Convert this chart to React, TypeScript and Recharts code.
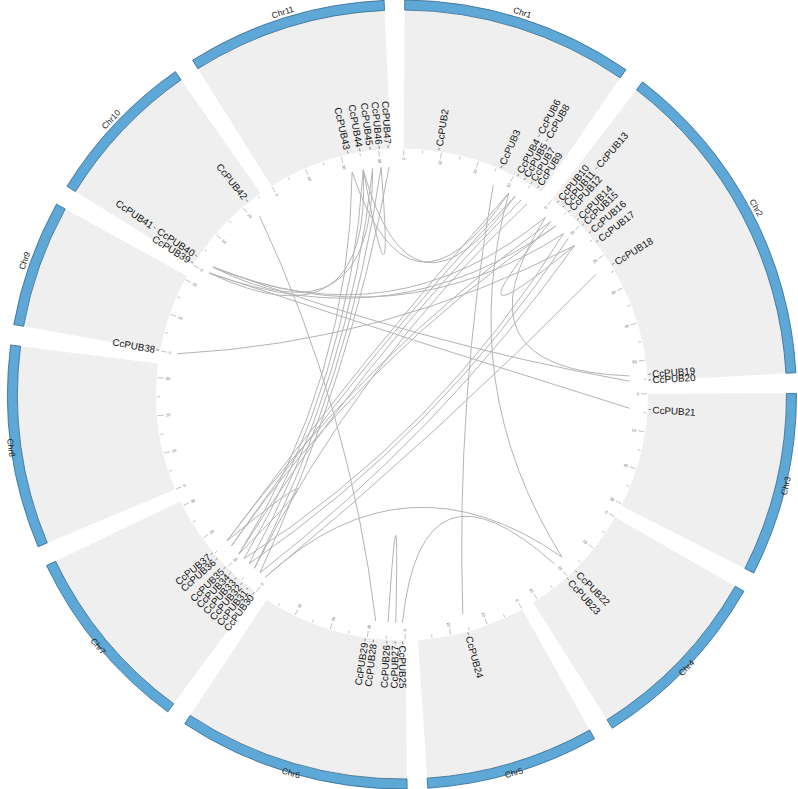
import React from "react";
import { PieChart, Pie, Cell } from "recharts";

const chromosomes = ["Chr1", "Chr2", "Chr3", "Chr4", "Chr5", "Chr6", "Chr7", "Chr8", "Chr9", "Chr10", "Chr11"];
const chrLengths = [38.5, 55.5, 30.5, 31.4, 28.7, 38.5, 31.4, 33.7, 21.0, 26.0, 33.2];

const geneNames = [
  "CcPUB2", "CcPUB3", "CcPUB4", "CcPUB5", "CcPUB6", "CcPUB7", "CcPUB8", "CcPUB9",
  "CcPUB10", "CcPUB11", "CcPUB12", "CcPUB13", "CcPUB14", "CcPUB15", "CcPUB16", "CcPUB17", "CcPUB18", "CcPUB19", "CcPUB20",
  "CcPUB21", "CcPUB22", "CcPUB23", "CcPUB24",
  "CcPUB25", "CcPUB26", "CcPUB27", "CcPUB28", "CcPUB29",
  "CcPUB30", "CcPUB31", "CcPUB32", "CcPUB33", "CcPUB34", "CcPUB35", "CcPUB36", "CcPUB37",
  "CcPUB38", "CcPUB39", "CcPUB40", "CcPUB41", "CcPUB42",
  "CcPUB43", "CcPUB44", "CcPUB45", "CcPUB46", "CcPUB47",
];
const geneChr = [
  "Chr1", "Chr1", "Chr1", "Chr1", "Chr1", "Chr1", "Chr1", "Chr1",
  "Chr2", "Chr2", "Chr2", "Chr2", "Chr2", "Chr2", "Chr2", "Chr2", "Chr2", "Chr2", "Chr2",
  "Chr3", "Chr4", "Chr4", "Chr5",
  "Chr6", "Chr6", "Chr6", "Chr6", "Chr6",
  "Chr7", "Chr7", "Chr7", "Chr7", "Chr7", "Chr7", "Chr7", "Chr7",
  "Chr9", "Chr10", "Chr10", "Chr10", "Chr10",
  "Chr11", "Chr11", "Chr11", "Chr11", "Chr11",
];
// position on chromosome (Mb)
const genePos = [
  9.2, 26.1, 31.0, 33.0, 31.0, 35.0, 33.0, 37.0,
  1.6, 3.5, 5.4, 3.5, 8.5, 10.4, 13.1, 16.1, 23.3, 53.8, 55.3,
  4.1, 17.5, 20.4, 15.5,
  0.7, 4.8, 2.6, 8.3, 10.5,
  0.4, 2.4, 4.4, 6.4, 8.4, 10.4, 13.5, 15.4,
  0.1, 0.4, 2.4, 2.4, 22.0,
  21.9, 25.1, 27.8, 30.2, 32.5,
];

// labels printed after another gene's label on the same line
const stackedLabels: Record<string, string> = { CcPUB6: "CcPUB4", CcPUB8: "CcPUB5", CcPUB13: "CcPUB11", CcPUB41: "CcPUB40" };

const linkFrom = [
  "CcPUB38", "CcPUB39", "CcPUB40", "CcPUB39", "CcPUB40", "CcPUB39", "CcPUB40", "CcPUB41",
  "CcPUB42", "CcPUB43", "CcPUB44", "CcPUB45", "CcPUB46", "CcPUB47", "CcPUB44", "CcPUB43",
  "CcPUB44", "CcPUB10", "CcPUB3", "CcPUB4", "CcPUB4", "CcPUB5", "CcPUB7", "CcPUB9",
  "CcPUB11", "CcPUB11", "CcPUB12", "CcPUB14", "CcPUB15", "CcPUB18", "CcPUB16", "CcPUB22",
  "CcPUB23", "CcPUB35", "CcPUB26",
];
const linkTo = [
  "CcPUB16", "CcPUB21", "CcPUB20", "CcPUB44", "CcPUB45", "CcPUB12", "CcPUB14", "CcPUB10",
  "CcPUB28", "CcPUB35", "CcPUB34", "CcPUB33", "CcPUB32", "CcPUB31", "CcPUB46", "CcPUB4",
  "CcPUB5", "CcPUB19", "CcPUB24", "CcPUB22", "CcPUB37", "CcPUB36", "CcPUB35", "CcPUB32",
  "CcPUB16", "CcPUB37", "CcPUB36", "CcPUB34", "CcPUB33", "CcPUB30", "CcPUB31", "CcPUB30",
  "CcPUB25", "CcPUB37", "CcPUB27",
];

const W = 798;
const H = 789;
const CX = 402;
const CY = 394.5;
const GAP = 3;
const START = 0.4; // clockwise from 12 o'clock
const R_IN = 246;
const R_BAND = 384.5;
const R_OUT = 394.5;
const R_LINK = 228;
const FONT = "Liberation Sans, Arial, sans-serif";
const LABEL_SIZE = 9.8;

const totalLen = chrLengths.reduce((a, b) => a + b, 0);
const degPerMb = (360 - GAP * chromosomes.length) / totalLen;
const chrStart: number[] = [];
chrLengths.reduce((acc, len, i) => {
  chrStart[i] = acc;
  return acc + len * degPerMb + GAP;
}, START);

const geneAngle = (name: string) => {
  const i = geneNames.indexOf(name);
  const c = chromosomes.indexOf(geneChr[i]);
  return chrStart[c] + genePos[i] * degPerMb;
};

const polar = (a: number, r: number) => {
  const t = (a * Math.PI) / 180;
  return [CX + r * Math.sin(t), CY - r * Math.cos(t)];
};

const textW = (s: string) => (32.8 + (s.length - 5) * 5.56) * (LABEL_SIZE / 10);

const chrData = chromosomes.map((name, i) => ({ name, length: chrLengths[i] }));

function Overlay() {
  const ticks: React.ReactNode[] = [];
  chromosomes.forEach((chr, c) => {
    for (let m = 0; m <= chrLengths[c]; m += 5) {
      const a = chrStart[c] + m * degPerMb;
      const major = m % 10 === 0;
      const [x1, y1] = polar(a, R_IN - 1);
      const [x2, y2] = polar(a, major ? R_IN - 7 : R_IN - 4);
      ticks.push(<line key={`t${c}-${m}`} x1={x1} y1={y1} x2={x2} y2={y2} stroke="#999" strokeWidth={0.6} />);
      if (major) {
        const [tx, ty] = polar(a, R_IN - 9);
        const rot = a < 180 ? a - 90 : a - 270;
        ticks.push(
          <text key={`l${c}-${m}`} x={tx} y={ty} fontSize={4} fill="#666" stroke="none" fontFamily={FONT}
            textAnchor={a < 180 ? "end" : "start"} dominantBaseline="central" transform={`rotate(${rot} ${tx} ${ty})`}>
            {m}
          </text>
        );
      }
    }
  });

  const labels = geneNames.map((g) => {
    const a = geneAngle(g);
    const host = stackedLabels[g];
    const r0 = host ? R_IN + 5 + textW(host) + 3 : R_IN + 1;
    const [d1x, d1y] = polar(a, r0);
    const [d2x, d2y] = polar(a, r0 + 2.5);
    const [tx, ty] = polar(a, r0 + 4);
    const right = a < 180;
    const rot = right ? a - 90 : a - 270;
    return (
      <g key={g}>
        <line x1={d1x} y1={d1y} x2={d2x} y2={d2y} stroke="#555" strokeWidth={0.7} />
        <text x={tx} y={ty} fontSize={LABEL_SIZE} fontFamily={FONT} fill="#111" stroke="none" textAnchor={right ? "start" : "end"}
          dominantBaseline="central" transform={`rotate(${rot} ${tx} ${ty})`}>
          {g}
        </text>
      </g>
    );
  });

  const links = linkFrom.map((f, i) => {
    const a1 = geneAngle(f);
    const a2 = geneAngle(linkTo[i]);
    let d = a2 - a1;
    while (d > 180) d -= 360;
    while (d < -180) d += 360;
    const [x1, y1] = polar(a1, R_LINK);
    const [x2, y2] = polar(a2, R_LINK);
    const [qx, qy] = polar(a1 + d / 2, 54);
    return <path key={`k${i}`} d={`M${x1},${y1} Q${qx},${qy} ${x2},${y2}`} fill="none" stroke="#b4b4b4" strokeWidth={1} />;
  });

  return (
    <g>
      {ticks}
      {links}
      {labels}
    </g>
  );
}

// chromosome names, plus the gene/link layer (drawn in the label layer so it sits above the sectors)
function BandLabel(props: any) {
  const { midAngle, index } = props;
  const a = ((90 - midAngle) % 360 + 360) % 360;
  const [x, y] = polar(a, 397.5);
  const rot = a > 90 && a < 270 ? a - 180 : a;
  return (
    <g>
      {index === 0 && <Overlay />}
      <text x={x} y={y} fontSize={8.5} fontFamily={FONT} fill="#222" stroke="none" textAnchor="middle"
        transform={`rotate(${rot} ${x} ${y})`}>
        {chromosomes[index]}
      </text>
    </g>
  );
}

export default function App() {
  return (
    <div style={{ position: "absolute", left: 0, top: 0, width: W, height: H, background: "#fff" }}>
      <PieChart width={W} height={H} margin={{ top: 0, right: 0, bottom: 0, left: 0 }}>
        <Pie data={chrData} dataKey="length" nameKey="name" cx={CX} cy={CY} innerRadius={R_IN} outerRadius={R_BAND}
          startAngle={90 - START} endAngle={90 - START - 360} paddingAngle={GAP} stroke="none" isAnimationActive={false}>
          {chrData.map((d) => (
            <Cell key={d.name} fill="#efefef" />
          ))}
        </Pie>
        <Pie data={chrData} dataKey="length" nameKey="name" cx={CX} cy={CY} innerRadius={R_BAND} outerRadius={R_OUT}
          startAngle={90 - START} endAngle={90 - START - 360} paddingAngle={GAP} stroke="#34688d" strokeWidth={0.8}
          label={BandLabel} labelLine={false} isAnimationActive={false}>
          {chrData.map((d) => (
            <Cell key={d.name} fill="#5ea8d7" />
          ))}
        </Pie>
      </PieChart>
    </div>
  );
}
